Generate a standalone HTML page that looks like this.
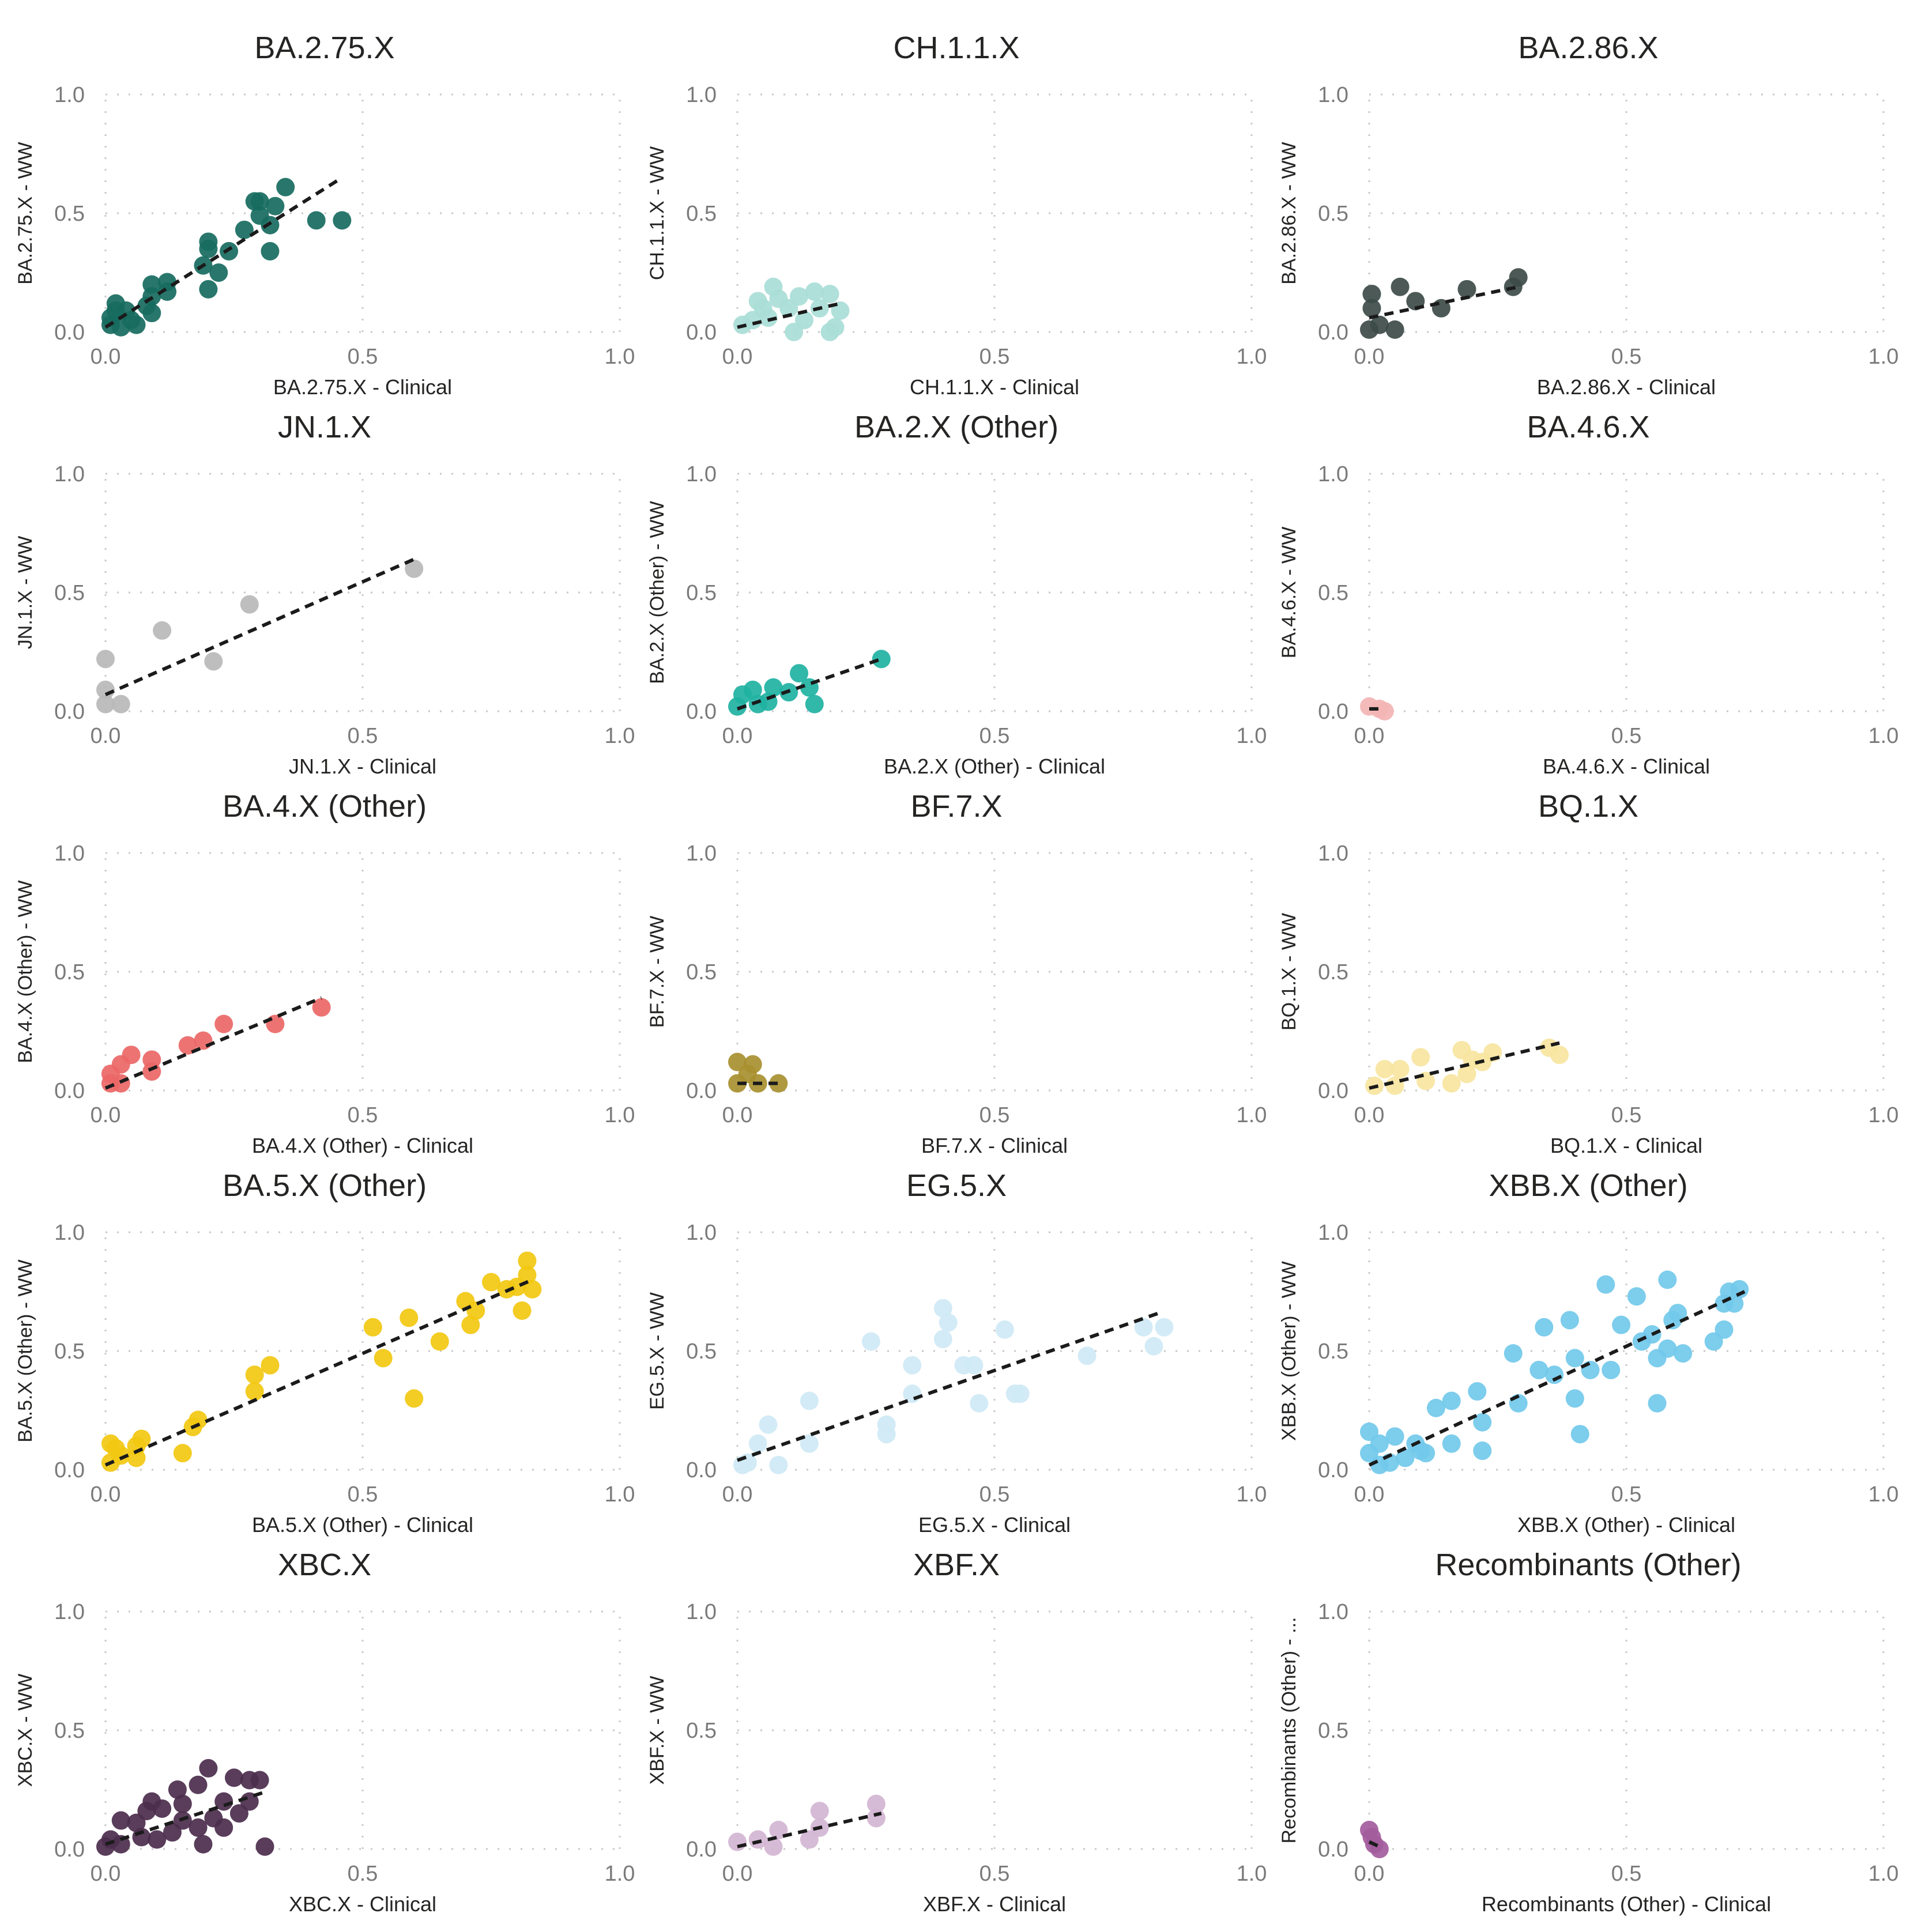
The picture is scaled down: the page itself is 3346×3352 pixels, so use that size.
<!DOCTYPE html>
<html><head><meta charset="utf-8">
<style>
html,body{margin:0;padding:0;background:#fff;}
svg{display:block;font-family:"Liberation Sans Narrow","Liberation Sans",sans-serif;}
</style></head>
<body>
<svg id="chart" width="3346" height="3352" viewBox="0 0 3346 3352"></svg>
<script>
const names = ["BA.2.75.X","CH.1.1.X","BA.2.86.X","JN.1.X","BA.2.X (Other)","BA.4.6.X","BA.4.X (Other)","BF.7.X","BQ.1.X","BA.5.X (Other)","EG.5.X","XBB.X (Other)","XBC.X","XBF.X","Recombinants (Other)"];
const colors = ["#176b5f","#a9ddd7","#3d4b48","#b9b9b9","#1fb2a2","#f3b4b4","#ec6767","#a89030","#f7e5a0","#f2c811","#cfe9f5","#72c9ea","#4b2c4c","#d3b5d3","#a35c9c"];
const tickValues = [0, 0.5, 1.0];
const tickLabels = ["0.0","0.5","1.0"];
const xData = [
 [0.35,0.29,0.30,0.33,0.30,0.32,0.41,0.46,0.27,0.20,0.20,0.24,0.32,0.19,0.22,0.20,0.09,0.12,0.12,0.09,0.08,0.09,0.05,0.02,0.04,0.01,0.01,0.03,0.06,0.02],
 [0.07,0.04,0.05,0.10,0.12,0.15,0.18,0.20,0.19,0.03,0.06,0.08,0.13,0.16,0.01,0.11,0.18],
 [0.005,0.005,0.06,0.09,0.14,0.19,0.28,0.29,0.02,0.05,0.0],
 [0.0,0.0,0.0,0.03,0.11,0.21,0.28,0.60],
 [0.28,0.12,0.14,0.15,0.07,0.10,0.03,0.01,0.04,0.0,0.06],
 [0.0,0.02,0.03],
 [0.42,0.33,0.23,0.19,0.16,0.09,0.09,0.05,0.03,0.01,0.01,0.03],
 [0.0,0.03,0.02,0.0,0.04,0.08],
 [0.37,0.35,0.24,0.18,0.20,0.19,0.16,0.10,0.06,0.03,0.11,0.01,0.05,0.22],
 [0.82,0.82,0.83,0.80,0.78,0.75,0.81,0.72,0.70,0.71,0.65,0.59,0.52,0.54,0.60,0.32,0.29,0.29,0.18,0.17,0.15,0.07,0.06,0.01,0.03,0.01,0.06,0.02],
 [0.40,0.41,0.40,0.52,0.26,0.34,0.44,0.46,0.34,0.54,0.55,0.47,0.68,0.79,0.83,0.81,0.14,0.14,0.29,0.29,0.06,0.04,0.02,0.08,0.01],
 [0.58,0.46,0.52,0.72,0.70,0.71,0.69,0.60,0.59,0.69,0.67,0.39,0.34,0.49,0.53,0.55,0.56,0.58,0.61,0.40,0.43,0.47,0.36,0.33,0.28,0.29,0.40,0.56,0.41,0.21,0.16,0.13,0.22,0.22,0.16,0.11,0.09,0.05,0.02,0.0,0.0,0.07,0.04,0.10,0.02],
 [0.20,0.25,0.28,0.30,0.14,0.18,0.23,0.28,0.09,0.08,0.11,0.03,0.06,0.15,0.21,0.23,0.18,0.13,0.07,0.01,0.19,0.31,0.03,0.10,0.15,0.26,0.0],
 [0.27,0.27,0.16,0.16,0.14,0.08,0.04,0.0,0.07],
 [0.0,0.005,0.01,0.02]
];
const yData = [
 [0.61,0.55,0.55,0.53,0.49,0.45,0.47,0.47,0.43,0.38,0.35,0.34,0.34,0.28,0.25,0.18,0.20,0.21,0.17,0.15,0.11,0.08,0.05,0.12,0.09,0.06,0.03,0.02,0.03,0.09],
 [0.19,0.13,0.10,0.10,0.15,0.17,0.16,0.09,0.02,0.05,0.06,0.14,0.05,0.10,0.03,0.0,0.0],
 [0.16,0.10,0.19,0.13,0.10,0.18,0.19,0.23,0.03,0.01,0.01],
 [0.22,0.09,0.03,0.03,0.34,0.21,0.45,0.60],
 [0.22,0.16,0.10,0.03,0.10,0.08,0.09,0.07,0.03,0.02,0.04],
 [0.02,0.01,0.0],
 [0.35,0.28,0.28,0.21,0.19,0.13,0.08,0.15,0.11,0.07,0.03,0.03],
 [0.12,0.11,0.07,0.03,0.03,0.03],
 [0.15,0.18,0.16,0.17,0.13,0.07,0.03,0.14,0.09,0.09,0.04,0.02,0.02,0.12],
 [0.88,0.82,0.76,0.77,0.76,0.79,0.67,0.67,0.71,0.61,0.54,0.64,0.60,0.47,0.30,0.44,0.40,0.33,0.21,0.18,0.07,0.13,0.10,0.11,0.06,0.03,0.05,0.09],
 [0.68,0.62,0.55,0.59,0.54,0.44,0.44,0.44,0.32,0.32,0.32,0.28,0.48,0.60,0.60,0.52,0.29,0.11,0.19,0.15,0.19,0.11,0.03,0.02,0.02],
 [0.80,0.78,0.73,0.76,0.75,0.70,0.70,0.66,0.63,0.59,0.54,0.63,0.60,0.61,0.54,0.57,0.47,0.51,0.49,0.47,0.42,0.42,0.40,0.42,0.49,0.28,0.30,0.28,0.15,0.33,0.29,0.26,0.20,0.08,0.11,0.07,0.11,0.14,0.11,0.16,0.07,0.05,0.03,0.08,0.02],
 [0.34,0.30,0.29,0.29,0.25,0.27,0.20,0.20,0.20,0.16,0.17,0.12,0.11,0.12,0.13,0.09,0.09,0.07,0.05,0.04,0.02,0.01,0.02,0.04,0.19,0.15,0.01],
 [0.19,0.13,0.16,0.09,0.04,0.08,0.04,0.03,0.01],
 [0.08,0.05,0.02,0.0]
];
const trendX0 = [0,0,0,0,0,0,0,0,0,0,0,0,0,0,0];
const trendY0 = [0.02,0.02,0.06,0.07,0.01,0.01,0.01,0.03,0.01,0.02,0.04,0.02,0.02,0.01,0.03];
const trendX1 = [0.46,0.20,0.29,0.60,0.28,0.03,0.42,0.08,0.37,0.83,0.82,0.73,0.31,0.28,0.02];
const trendY1 = [0.65,0.12,0.19,0.64,0.22,0.01,0.39,0.03,0.20,0.80,0.66,0.75,0.24,0.15,0.01];

const NS = "http://www.w3.org/2000/svg";
const svg = document.getElementById("chart");
function mk(tag, attrs, parent){
  const e = document.createElementNS(NS, tag);
  for (const k in attrs) e.setAttribute(k, attrs[k]);
  parent.appendChild(e); return e;
}
const X0 = 183, XSPAN = 892, COLP = 1096;
const Y0 = 576, YSPAN = 412, ROWP = 658;

names.forEach((nm, i) => {
  const col = i % 3, row = Math.floor(i / 3);
  const ox = X0 + col * COLP, oy = Y0 + row * ROWP;
  const sx = v => ox + v * XSPAN;
  const sy = v => oy - v * YSPAN;
  const g = mk("g", {}, svg);
  
  

  const t = mk("text", {x: sx(0.5) - 66, y: oy - 475, "text-anchor": "middle", "font-size": 54, fill: "#252423"}, g);
  t.textContent = nm;
  
  

  tickValues.forEach((tv, k) => {
    const gl = mk("line", {x1: sx(0), x2: sx(1), y1: sy(tv), y2: sy(tv), stroke: "#c8c8c8", "stroke-width": 3, "stroke-dasharray": "3 17"}, g);
    
    
    const gv = mk("line", {x1: sx(tv), x2: sx(tv), y1: sy(0), y2: sy(1), stroke: "#c8c8c8", "stroke-width": 3, "stroke-dasharray": "3 17"}, g);
    
    
    const yl = mk("text", {x: ox - 36, y: sy(tv) + 13, "text-anchor": "end", "font-size": 38, fill: "#7a7a7a"}, g);
    yl.textContent = tickLabels[k];
    
    
    const xl = mk("text", {x: sx(tv), y: oy + 55, "text-anchor": "middle", "font-size": 38, fill: "#7a7a7a"}, g);
    xl.textContent = tickLabels[k];
    
    
  });

  const xt = mk("text", {x: sx(0.5), y: oy + 108, "text-anchor": "middle", "font-size": 36, fill: "#252423"}, g);
  xt.textContent = nm + " - Clinical";
  
  
  const yc = sy(0.5), xc = ox - 128;
  const yt = mk("text", {x: xc, y: yc, "text-anchor": "middle", "font-size": 34, fill: "#252423", transform: "rotate(-90 " + xc + " " + yc + ")"}, g);
  yt.textContent = (nm === "Recombinants (Other)") ? "Recombinants (Other) - ..." : nm + " - WW";
  
  

  xData[i].forEach((xv, j) => {
    const c = mk("circle", {cx: sx(xv), cy: sy(yData[i][j]), r: 16, fill: colors[i], "fill-opacity": 0.92}, g);
    
    
  });

  const tl = mk("line", {x1: sx(trendX0[i]), y1: sy(trendY0[i]), x2: sx(trendX1[i]), y2: sy(trendY1[i]), stroke: "#1b1b1b", "stroke-width": 6, "stroke-dasharray": "16 11"}, g);
  
  
});
</script>
</body></html>
